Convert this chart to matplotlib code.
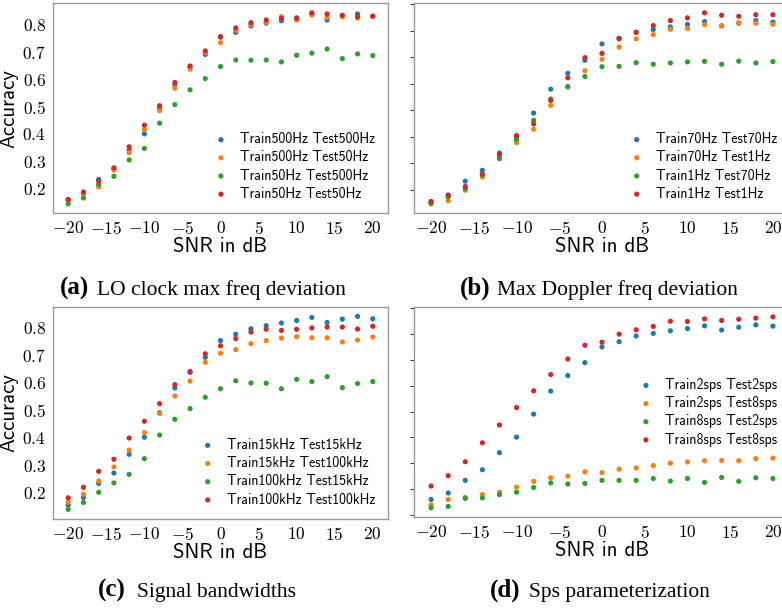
import numpy as np
import matplotlib
matplotlib.use('Agg')
import matplotlib.pyplot as plt
from matplotlib.ticker import FuncFormatter, MultipleLocator

# SNR values (dB)
snr = [-20, -18, -16, -14, -12, -10, -8, -6, -4, -2, 0, 2, 4, 6, 8, 10, 12, 14, 16, 18, 20]

# (a) LO clock max freq deviation
a_labels = ['Train500Hz Test500Hz', 'Train500Hz Test50Hz', 'Train50Hz Test500Hz', 'Train50Hz Test50Hz']
a_blue = [0.159, 0.183, 0.234, 0.274, 0.341, 0.400, 0.495, 0.579, 0.644, 0.690, 0.753, 0.771, 0.794, 0.804, 0.813, 0.824, 0.838, 0.816, 0.832, 0.838, 0.829]
a_orange = [0.157, 0.181, 0.207, 0.268, 0.331, 0.416, 0.485, 0.567, 0.636, 0.697, 0.733, 0.779, 0.799, 0.807, 0.828, 0.816, 0.834, 0.825, 0.828, 0.823, 0.829]
a_green = [0.145, 0.166, 0.216, 0.245, 0.305, 0.347, 0.439, 0.507, 0.561, 0.602, 0.646, 0.670, 0.669, 0.670, 0.663, 0.687, 0.695, 0.710, 0.675, 0.692, 0.686]
a_red = [0.161, 0.188, 0.228, 0.276, 0.353, 0.432, 0.503, 0.588, 0.648, 0.703, 0.755, 0.787, 0.806, 0.816, 0.822, 0.822, 0.842, 0.838, 0.833, 0.828, 0.830]

# (b) Max Doppler freq deviation
b_labels = ['Train70Hz Test70Hz', 'Train70Hz Test1Hz', 'Train1Hz Test70Hz', 'Train1Hz Test1Hz']
b_blue = [0.156, 0.177, 0.233, 0.274, 0.339, 0.400, 0.490, 0.580, 0.640, 0.689, 0.751, 0.772, 0.794, 0.805, 0.815, 0.824, 0.835, 0.819, 0.830, 0.839, 0.833]
b_orange = [0.153, 0.159, 0.199, 0.249, 0.320, 0.378, 0.429, 0.519, 0.590, 0.650, 0.693, 0.739, 0.770, 0.786, 0.806, 0.809, 0.824, 0.819, 0.829, 0.829, 0.825]
b_green = [0.148, 0.174, 0.206, 0.257, 0.318, 0.390, 0.463, 0.543, 0.589, 0.628, 0.665, 0.666, 0.680, 0.674, 0.679, 0.683, 0.685, 0.674, 0.686, 0.679, 0.684]
b_red = [0.156, 0.181, 0.213, 0.260, 0.333, 0.405, 0.449, 0.538, 0.623, 0.699, 0.715, 0.770, 0.795, 0.820, 0.839, 0.849, 0.868, 0.859, 0.855, 0.861, 0.861]

# (c) Signal bandwidths
c_labels = ['Train15kHz Test15kHz', 'Train15kHz Test100kHz', 'Train100kHz Test15kHz', 'Train100kHz Test100kHz']
c_blue = [0.155, 0.182, 0.233, 0.271, 0.339, 0.401, 0.490, 0.580, 0.640, 0.691, 0.752, 0.775, 0.795, 0.806, 0.816, 0.825, 0.836, 0.818, 0.830, 0.840, 0.831]
c_orange = [0.165, 0.194, 0.242, 0.293, 0.354, 0.418, 0.487, 0.551, 0.605, 0.673, 0.706, 0.719, 0.741, 0.752, 0.761, 0.766, 0.762, 0.762, 0.747, 0.754, 0.765]
c_green = [0.139, 0.164, 0.201, 0.235, 0.266, 0.323, 0.409, 0.466, 0.505, 0.546, 0.577, 0.606, 0.598, 0.597, 0.577, 0.611, 0.603, 0.621, 0.581, 0.596, 0.603]
c_red = [0.181, 0.219, 0.277, 0.321, 0.398, 0.459, 0.523, 0.592, 0.637, 0.704, 0.733, 0.759, 0.783, 0.793, 0.789, 0.793, 0.798, 0.801, 0.801, 0.794, 0.804]

# (d) Sps parameterization
d_labels = ['Train2sps Test2sps', 'Train2sps Test8sps', 'Train8sps Test2sps', 'Train8sps Test8sps']
d_blue = [0.160, 0.185, 0.234, 0.275, 0.341, 0.401, 0.490, 0.579, 0.639, 0.689, 0.750, 0.770, 0.792, 0.802, 0.812, 0.821, 0.831, 0.815, 0.826, 0.835, 0.830]
d_orange = [0.139, 0.160, 0.168, 0.179, 0.188, 0.208, 0.230, 0.244, 0.250, 0.267, 0.264, 0.277, 0.282, 0.291, 0.300, 0.305, 0.310, 0.311, 0.310, 0.318, 0.320]
d_green = [0.128, 0.133, 0.164, 0.166, 0.179, 0.188, 0.206, 0.224, 0.220, 0.222, 0.234, 0.234, 0.234, 0.241, 0.231, 0.241, 0.226, 0.245, 0.230, 0.244, 0.241]
d_red = [0.212, 0.252, 0.306, 0.379, 0.448, 0.515, 0.580, 0.643, 0.703, 0.756, 0.768, 0.799, 0.816, 0.829, 0.849, 0.848, 0.858, 0.852, 0.857, 0.861, 0.866]

colors = ['#1f77b4', '#ff7f0e', '#2ca02c', '#d62728']

plt.rcParams['font.family'] = 'cmss10'
plt.rcParams['mathtext.fontset'] = 'cm'
plt.rcParams['axes.formatter.use_mathtext'] = True

W, H = 782, 609
fig = plt.figure(figsize=(W / 100, H / 100), dpi=100)


def box(l, t, r, b):
    # pixel box -> figure fraction
    return [l / W, 1 - b / H, (r - l) / W, (b - t) / H]


panels = [
    (box(53, 3.3, 388, 213.3), [a_blue, a_orange, a_green, a_red], a_labels, True, 'lower right'),
    (box(414, 3.3, 790, 213.3), [b_blue, b_orange, b_green, b_red], b_labels, False, 'lower right'),
    (box(53, 306.7, 388, 519), [c_blue, c_orange, c_green, c_red], c_labels, True, 'lower right'),
    (box(414, 307.3, 790, 517.3), [d_blue, d_orange, d_green, d_red], d_labels, False, 'center right'),
]

fmt = FuncFormatter(lambda v, p: r'$\mathrm{%g}$' % round(v, 2))

for rect, series, labels, show_y, loc in panels:
    ax = fig.add_axes(rect)
    for vals, col, lab in zip(series, colors, labels):
        ax.scatter(snr, vals, s=14, color=col, edgecolors='none', label=lab)
    for sp in ax.spines.values():
        sp.set_color('0.6')
        sp.set_linewidth(1.0)
    ax.xaxis.set_major_locator(MultipleLocator(5))
    ax.yaxis.set_major_locator(MultipleLocator(0.1))
    ax.xaxis.set_major_formatter(fmt)
    ax.yaxis.set_major_formatter(fmt)
    ax.tick_params(axis='x', length=0, pad=5, labelsize=12.5)
    if show_y:
        ax.tick_params(axis='y', length=0, pad=5, labelsize=12.5)
        ax.set_ylabel('Accuracy', fontsize=15, labelpad=3)
    else:
        ax.tick_params(axis='y', length=3, color='0.25', labelleft=False)
    ax.set_xlabel('SNR in dB', fontsize=15, labelpad=0)
    ax.legend(loc=loc, frameon=False, fontsize=10, handlelength=1.2,
              handletextpad=0.8, labelspacing=0.3, scatterpoints=1)

captions = [
    (60, 97, 295, '(a)', 'LO clock max freq deviation'),
    (460, 497, 295, '(b)', 'Max Doppler freq deviation'),
    (98, 137, 597, '(c)', 'Signal bandwidths'),
    (490, 529, 597, '(d)', 'Sps parameterization'),
]
for xl, xt, yb, tag, txt in captions:
    fig.text(xl / W, 1 - yb / H, tag, fontsize=18, fontweight='bold',
             family='Liberation Serif', va='baseline', ha='left')
    fig.text(xt / W, 1 - yb / H, txt, fontsize=15.5,
             family='Liberation Serif', va='baseline', ha='left')

fig.savefig('out.png', dpi=100)
